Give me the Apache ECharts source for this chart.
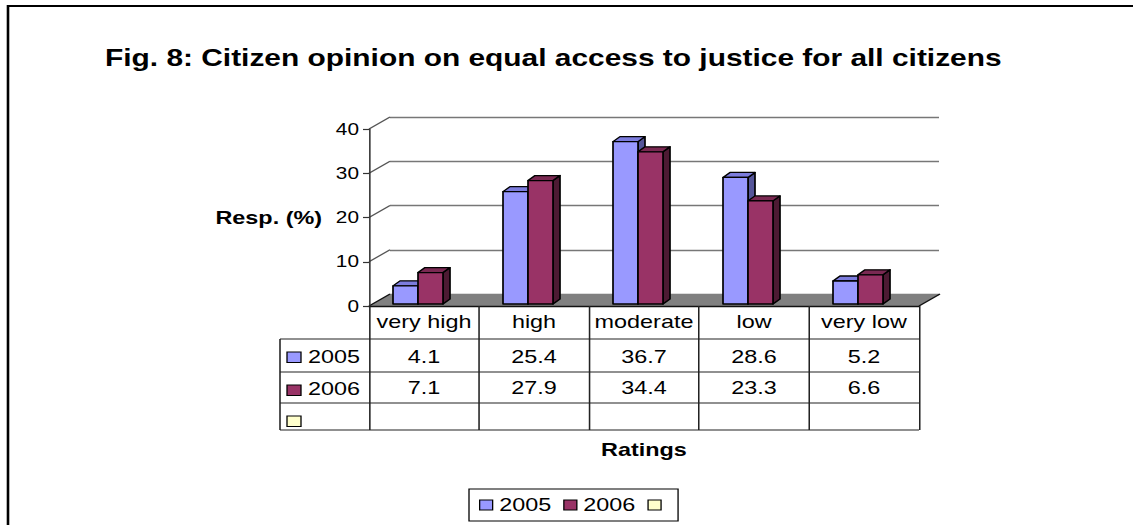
<!DOCTYPE html>
<html><head><meta charset="utf-8">
<script src="https://cdn.jsdelivr.net/npm/echarts@6/dist/echarts.min.js"></script>
<style>
html,body{margin:0;padding:0;background:#fff;overflow:hidden;width:1133px;height:525px}
#c{width:871.54px;height:525px;transform:scaleX(1.3);transform-origin:0 0;}
</style></head><body><div id="c"></div>
<script>
// ---- data ----
const categories = ['very high', 'high', 'moderate', 'low', 'very low'];
const seriesNames = ['2005', '2006', ' '];
const values2005 = [4.1, 25.4, 36.7, 28.6, 5.2];
const values2006 = [7.1, 27.9, 34.4, 23.3, 6.6];
const valuesBlank = [];
const yTicks = [0, 10, 20, 30, 40];
const titleText = 'Fig. 8: Citizen opinion on equal access to justice for all citizens';
const yName = 'Resp. (%)';
const xName = 'Ratings';

// ---- styling / layout ----
const S = 1.3;                 // horizontal stretch of the original picture
const X = v => v / S;
const FONT = "'Liberation Sans', Arial, sans-serif";
const frontColors = ['#9999FF', '#993366', '#FFFFCC'];
const topColors = ['#7C7CDD', '#7A2952', '#FFFFCC'];
const sideColors = ['#555599', '#4D1A33', '#FFFFCC'];
const allValues = [values2005, values2006, valuesBlank];

const chart = echarts.init(document.getElementById('c'), null, {renderer: 'svg'});

function frameRender(params, api) {
  const cs = params.coordSys;
  const L = cs.x, R = cs.x + cs.width, B = cs.y + cs.height;
  const dx = X(21), dy = -12;
  const ch = [];
  ch.push({type: 'polygon', shape: {points: [[L, B], [R, B], [R + dx, B + dy], [L + dx, B + dy]]},
    style: {fill: '#808080', stroke: null}});
  yTicks.forEach(t => {
    const y = api.coord([0, t])[1];
    ch.push({type: 'line', shape: {x1: L, y1: y, x2: L + dx, y2: y + dy},
      style: {stroke: t === 0 ? '#111' : '#555', lineWidth: 1.2}});
  });
  ch.push({type: 'line', shape: {x1: R, y1: B, x2: R + dx, y2: B + dy}, style: {stroke: '#111', lineWidth: 1.2}});
  // table
  const keyLeft = L - X(89);
  const rows = [B + 33, B + 66, B + 97, B + 124];
  rows.forEach(y => ch.push({type: 'line', shape: {x1: keyLeft, y1: y, x2: R, y2: y}, style: {stroke: '#222', lineWidth: 1.2}}));
  ch.push({type: 'line', shape: {x1: keyLeft, y1: rows[0], x2: keyLeft, y2: rows[3]}, style: {stroke: '#222', lineWidth: 1.2}});
  seriesNames.forEach((n, i) => {
    const top = rows[i], bot = rows[i + 1];
    ch.push({type: 'rect', shape: {x: keyLeft + X(7), y: top + 13, width: X(14), height: 10.5},
      style: {fill: frontColors[i], stroke: '#000', lineWidth: 1}});
    ch.push({type: 'text', style: {text: n, x: keyLeft + X(28), y: (top + bot) / 2 + 1.5,
      verticalAlign: 'middle', align: 'left', font: '18px ' + FONT, fill: '#000'}});
  });
  return {type: 'group', children: ch, silent: true};
}

function barRender(si) {
  return function (params, api) {
    const c = api.value(0), v = api.value(1);
    const top = api.coord([c, v]);
    const base = api.coord([c, 0]);
    const bw = X(25), off = X(-6), dx = X(7), dy = -5, lift = 2;
    const xl = top[0] + off - bw + si * bw, xr = xl + bw;
    const yt = top[1] - lift, yb = base[1] - lift;
    const st = {stroke: '#000', lineWidth: 1.3, lineJoin: 'round'};
    return {type: 'group', children: [
      {type: 'polygon', shape: {points: [[xr, yt], [xr + dx, yt + dy], [xr + dx, yb + dy], [xr, yb]]},
        style: Object.assign({fill: sideColors[si]}, st)},
      {type: 'polygon', shape: {points: [[xl, yt], [xl + dx, yt + dy], [xr + dx, yt + dy], [xr, yt]]},
        style: Object.assign({fill: topColors[si]}, st)},
      {type: 'rect', shape: {x: xl, y: yt, width: bw, height: yb - yt},
        style: Object.assign({fill: frontColors[si]}, st)},
      {type: 'text', style: {text: v.toFixed(1), x: top[0], y: base[1] + 51 + si * 31,
        align: 'center', verticalAlign: 'middle', font: '18px ' + FONT, fill: '#000'}}
    ]};
  };
}

const series = [{
  type: 'custom', name: 'frame', xAxisIndex: 0, yAxisIndex: 0, silent: true,
  data: [[0, 0]], renderItem: frameRender, z: 1, clip: false
}];
allValues.forEach((vals, si) => {
  series.push({
    type: 'custom', name: seriesNames[si], xAxisIndex: 0, yAxisIndex: 0, z: 3,
    itemStyle: {color: frontColors[si], borderColor: '#000', borderWidth: 1},
    data: vals.map((v, i) => [i, v]), encode: {x: 0, y: 1},
    renderItem: barRender(si), clip: false
  });
});

chart.setOption({
  animation: false,
  backgroundColor: '#fff',
  title: {text: titleText, left: X(105), top: 47, padding: 0,
    textStyle: {fontFamily: FONT, fontSize: 23, fontWeight: 'bold', color: '#000'}},
  graphic: [{type: 'rect', shape: {x: X(8), y: 6, width: 2000, height: 1000},
    style: {fill: 'none', stroke: '#000', lineWidth: 2}, silent: true, z: -1}],
  legend: {
    data: seriesNames, left: X(469), top: 489, orient: 'horizontal',
    padding: [7, X(4), 7, X(10)], itemWidth: X(13), itemHeight: 10, itemGap: X(12),
    icon: 'rect', selectedMode: false, borderColor: '#000', borderWidth: 1,
    itemStyle: {borderColor: '#000', borderWidth: 1},
    textStyle: {fontFamily: FONT, fontSize: 18, color: '#000', lineHeight: 18}
  },
  grid: [
    {left: X(369), top: 129, width: X(550), height: 177, outerBoundsMode: 'none', containLabel: false},
    {left: X(390), top: 117, width: X(549), height: 177, outerBoundsMode: 'none', containLabel: false}
  ],
  xAxis: [
    {type: 'category', gridIndex: 0, data: categories, boundaryGap: true, z: 5,
      axisLine: {show: true, lineStyle: {color: '#111', width: 1.3}},
      axisTick: {show: true, length: 124, interval: 0, lineStyle: {color: '#222', width: 1.2}},
      axisLabel: {interval: 0, margin: 7, fontFamily: FONT, fontSize: 18, color: '#000'},
      splitLine: {show: false},
      name: xName, nameLocation: 'middle', nameGap: 135,
      nameTextStyle: {fontFamily: FONT, fontSize: 18, fontWeight: 'bold', color: '#000'}},
    {type: 'category', gridIndex: 1, data: categories, show: false}
  ],
  yAxis: [
    {type: 'value', gridIndex: 0, min: 0, max: 40, interval: 10, z: 5,
      axisLine: {show: true, lineStyle: {color: '#333', width: 1.2}},
      axisTick: {show: true, length: X(6), lineStyle: {color: '#333', width: 1.2}},
      axisLabel: {margin: X(10), fontFamily: FONT, fontSize: 16, color: '#000'},
      splitLine: {show: false},
      name: yName, nameLocation: 'middle', nameRotate: 0, nameGap: X(47),
      nameTextStyle: {fontFamily: FONT, fontSize: 18, fontWeight: 'bold', color: '#000', align: 'right', verticalAlign: 'middle'}},
    {type: 'value', gridIndex: 1, min: 0, max: 40, interval: 10,
      axisLine: {show: false}, axisTick: {show: false}, axisLabel: {show: false},
      splitLine: {show: true, lineStyle: {color: '#777', width: 1.4}}}
  ],
  series: series
});
</script>
</body></html>
